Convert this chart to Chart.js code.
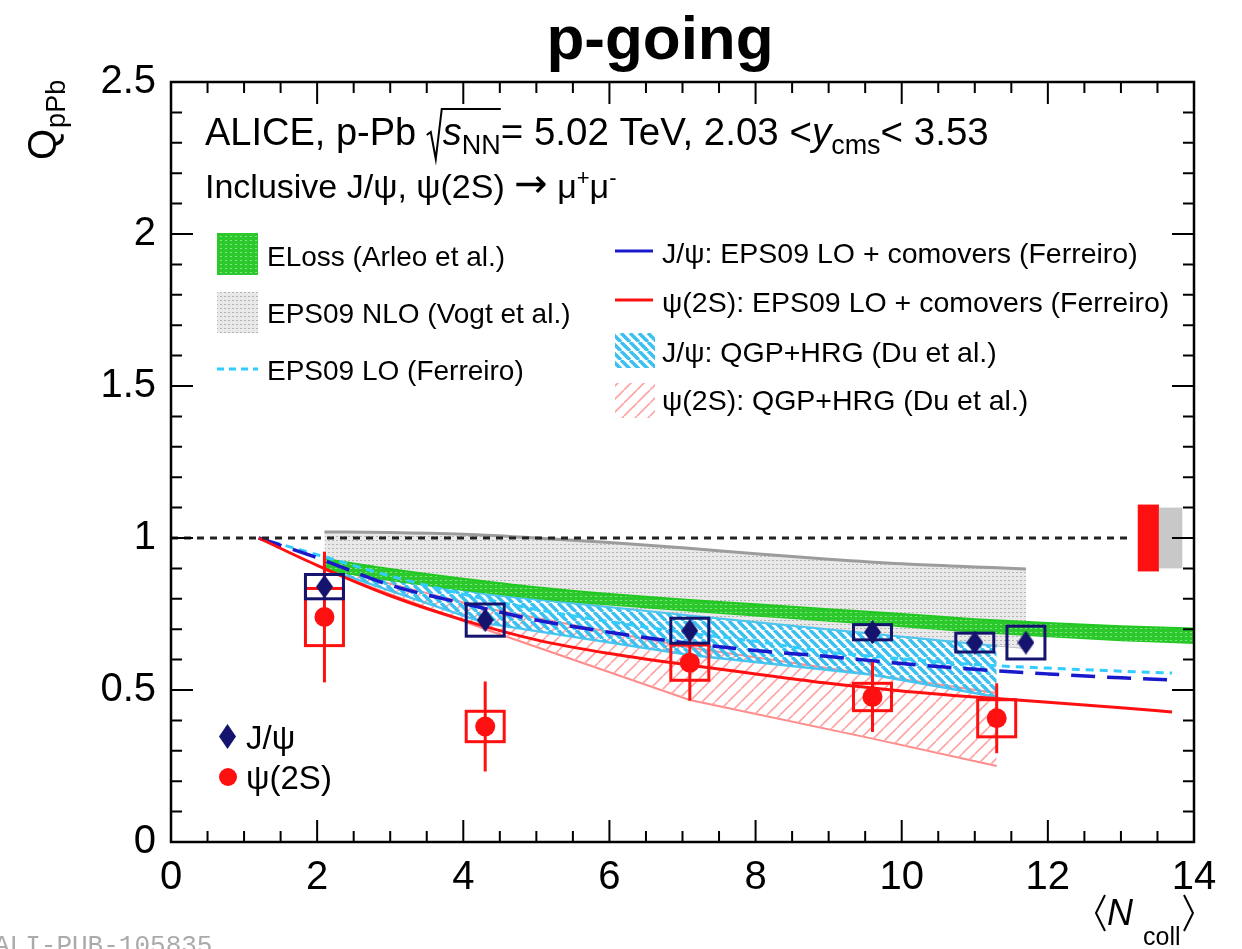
<!DOCTYPE html>
<html>
<head>
<meta charset="utf-8">
<script src="https://cdn.jsdelivr.net/npm/chart.js@4.4.1/dist/chart.umd.min.js"></script>
<style>
  html, body { margin: 0; padding: 0; background: #fff; }
  #plot { display: block; }
</style>
</head>
<body>
<canvas id="plot" width="1242" height="949"></canvas>
<script>
// measured Q_pPb vs <Ncoll>
const jpsiNcoll = [2.1, 4.3, 7.1, 9.6, 11.0, 11.7];
const jpsiQ     = [0.84, 0.73, 0.695, 0.69, 0.656, 0.656];
const jpsiStat  = [0.03, 0.03, 0.025, 0.035, 0.025, 0.02];
const jpsiSyst  = [0.04, 0.053, 0.041, 0.025, 0.031, 0.054];

const psi2sNcoll = [2.1, 4.3, 7.1, 9.6, 11.3];
const psi2sQ     = [0.74, 0.38, 0.59, 0.477, 0.407];
const psi2sStat  = [0.215, 0.148, 0.125, 0.115, 0.115];
const psi2sSyst  = [0.094, 0.05, 0.058, 0.045, 0.061];

// global normalisation uncertainties: psi(2S), J/psi
const globalUnc = [0.11, 0.10];

// EPS09 LO + comovers and EPS09 LO alone (Ferreiro)
const ferreiroNcoll = [1.2, 2, 3, 4, 5, 6, 7, 8, 9, 10, 11, 12, 13, 13.7];
const comoversJpsi  = [1.0, 0.935, 0.845, 0.785, 0.73, 0.69, 0.656, 0.63, 0.61, 0.587, 0.568, 0.553, 0.54, 0.533];
const comoversPsi2s = [1.0, 0.91, 0.81, 0.73, 0.665, 0.62, 0.585, 0.553, 0.522, 0.497, 0.477, 0.46, 0.442, 0.428];
const eps09LO       = [1.0, 0.945, 0.875, 0.815, 0.765, 0.725, 0.69, 0.66, 0.625, 0.603, 0.584, 0.572, 0.562, 0.556];

// energy loss band (Arleo et al.)
const elossNcoll = [2.1, 3, 4, 5, 6, 7, 8, 9, 10, 11, 12, 13, 14];
const elossHigh  = [0.932, 0.898, 0.866, 0.838, 0.816, 0.798, 0.782, 0.766, 0.75, 0.733, 0.72, 0.71, 0.702];
const elossLow   = [0.897, 0.862, 0.83, 0.803, 0.781, 0.763, 0.745, 0.728, 0.71, 0.692, 0.677, 0.664, 0.655];

// EPS09 NLO band (Vogt et al.)
const vogtNcoll = [2.1, 3, 4, 5, 6, 7, 8, 9, 10, 11, 11.7];
const vogtHigh  = [1.02, 1.018, 1.012, 1.0, 0.985, 0.968, 0.948, 0.93, 0.915, 0.905, 0.898];
const vogtLow   = [0.93, 0.885, 0.845, 0.805, 0.775, 0.748, 0.722, 0.698, 0.675, 0.652, 0.637];

// QGP+HRG bands (Du et al.)
const duNcoll     = [2.1, 4.3, 7.1, 9.6, 11.3];
const duJpsiHigh  = [0.915, 0.815, 0.745, 0.685, 0.645];
const duJpsiLow   = [0.90, 0.72, 0.615, 0.55, 0.477];
const duPsi2sHigh = [0.905, 0.77, 0.64, 0.55, 0.49];
const duPsi2sLow  = [0.895, 0.70, 0.467, 0.34, 0.25];

const xTicks = [0, 2, 4, 6, 8, 10, 12, 14];
const yTicks = [0, 0.5, 1, 1.5, 2, 2.5];

const FONT = '"Liberation Sans", Arial, Helvetica, sans-serif';
const NAVY = '#14146e';
const RED = '#ff1010';
const BOX_HALF = 0.26;

const canvas = document.getElementById('plot');
const ctx = canvas.getContext('2d');

const pts = (xs, ys) => xs.map((x, i) => ({ x: x, y: ys[i] }));

function dots(bg, dot, w, h, dw, dh) {
    const c = document.createElement('canvas');
    c.width = w; c.height = h;
    const g = c.getContext('2d');
    g.fillStyle = bg; g.fillRect(0, 0, w, h);
    g.fillStyle = dot; g.fillRect(0, 0, dw, dh);
    return ctx.createPattern(c, 'repeat');
}

function hatch(color, dir, size, lw) {
    const c = document.createElement('canvas');
    c.width = size; c.height = size;
    const g = c.getContext('2d');
    g.strokeStyle = color; g.lineWidth = lw;
    g.beginPath();
    for (let k = -1; k <= 1; k++) {
        if (dir > 0) { g.moveTo(k * size, size); g.lineTo(k * size + size, 0); }
        else { g.moveTo(k * size, 0); g.lineTo(k * size + size, size); }
    }
    g.stroke();
    return ctx.createPattern(c, 'repeat');
}

function diamond(w, h) {
    const c = document.createElement('canvas');
    c.width = w; c.height = h;
    const g = c.getContext('2d');
    g.fillStyle = NAVY;
    g.beginPath();
    g.moveTo(w / 2, 0); g.lineTo(w, h / 2); g.lineTo(w / 2, h); g.lineTo(0, h / 2);
    g.closePath(); g.fill();
    return c;
}

const greenFill = dots('#2cc92c', '#86e086', 5, 4, 2, 1);
const greyFill  = dots('#e9e9e9', '#b4b4b4', 4, 4, 2, 1);
const blueHatch = hatch('#3cc0ef', -1, 9, 3.5);
const pinkHatch = hatch('#ffa4a4', 1, 13, 1.6);
const diamondMark = diamond(17, 24);
const diamondLegend = diamond(17, 25);

function line(label, xs, ys, opts) {
    return Object.assign({
        label: label, data: pts(xs, ys), pointRadius: 0, fill: false,
        borderWidth: 2, tension: 0
    }, opts);
}

// text with sub/superscripts, parts drawn one after another
function rich(x, y, parts) {
    let cx = x;
    parts.forEach(p => {
        ctx.font = (p.italic ? 'italic ' : '') + p.size + 'px ' + (p.family || FONT);
        ctx.fillText(p.t, cx, y + (p.dy || 0));
        cx += ctx.measureText(p.t).width + (p.gap || 0);
    });
    return cx;
}

const framePlugin = {
    id: 'frame',
    beforeDatasetDraw(chart, args) {
        const ds = chart.data.datasets[args.index];
        if (!ds.syst) return;
        const xs = chart.scales.x, ys = chart.scales.y;
        const c = chart.ctx;
        c.save();
        c.strokeStyle = ds.boxColor;
        c.lineWidth = 3;
        ds.data.forEach((p, i) => {
            const xl = xs.getPixelForValue(p.x - BOX_HALF);
            const xr = xs.getPixelForValue(p.x + BOX_HALF);
            const yt = ys.getPixelForValue(p.y + ds.syst[i]);
            const yb = ys.getPixelForValue(p.y - ds.syst[i]);
            c.strokeRect(xl, yt, xr - xl, yb - yt);
            const xc = xs.getPixelForValue(p.x);
            c.beginPath();
            c.moveTo(xc, ys.getPixelForValue(p.y + ds.stat[i]));
            c.lineTo(xc, ys.getPixelForValue(p.y - ds.stat[i]));
            c.stroke();
        });
        c.restore();
    },
    afterDatasetsDraw(chart) {
        const xs = chart.scales.x, ys = chart.scales.y;
        const c = chart.ctx;
        // global uncertainty boxes at unity
        const cols = [RED, '#c8c8c8'];
        const spans = [[13.23, 13.52], [13.52, 13.84]];
        globalUnc.forEach((u, i) => {
            const xl = xs.getPixelForValue(spans[i][0]);
            const xr = xs.getPixelForValue(spans[i][1]);
            const yt = ys.getPixelForValue(1 + u);
            const yb = ys.getPixelForValue(1 - u);
            c.fillStyle = cols[i];
            c.fillRect(xl, yt, xr - xl, yb - yt);
        });
    },
    afterDraw(chart) {
        const a = chart.chartArea;
        const xs = chart.scales.x, ys = chart.scales.y;
        const c = chart.ctx;
        c.save();
        c.strokeStyle = '#000';
        c.lineWidth = 2.5;
        c.strokeRect(a.left, a.top, a.right - a.left, a.bottom - a.top);
        // ticks inside the frame on all four sides
        c.lineWidth = 2;
        c.beginPath();
        for (let v = 0; v <= 14.001; v += 0.5) {
            const px = xs.getPixelForValue(v);
            const len = Math.abs(v % 2) < 1e-6 ? 22 : 11;
            c.moveTo(px, a.bottom); c.lineTo(px, a.bottom - len);
            c.moveTo(px, a.top); c.lineTo(px, a.top + len);
        }
        for (let k = 0; k <= 25; k++) {
            const py = ys.getPixelForValue(k / 10);
            const len = k % 5 === 0 ? 22 : 11;
            c.moveTo(a.left, py); c.lineTo(a.left + len, py);
            c.moveTo(a.right, py); c.lineTo(a.right - len, py);
        }
        c.stroke();

        c.fillStyle = '#000';
        c.textBaseline = 'alphabetic';
        c.textAlign = 'left';

        // title
        c.font = 'bold 62px ' + FONT;
        c.textAlign = 'center';
        c.fillText('p-going', 660, 59);
        c.textAlign = 'left';

        // y axis title, rotated
        c.save();
        c.translate(56, 160);
        c.rotate(-Math.PI / 2);
        c.font = '40px ' + FONT;
        c.fillText('Q', 0, 0);
        const qw = c.measureText('Q').width;
        c.font = '27px ' + FONT;
        c.fillText('pPb', qw + 1, 9);
        c.restore();

        // x axis title
        c.lineWidth = 2;
        c.beginPath();
        c.moveTo(1105, 895); c.lineTo(1096, 913); c.lineTo(1105, 931);
        c.moveTo(1184, 895); c.lineTo(1193, 913); c.lineTo(1184, 931);
        c.stroke();
        rich(1107, 925, [{ t: 'N', size: 36, italic: true }]);
        rich(1143, 945, [{ t: 'coll', size: 25 }]);

        // header lines
        let cx = rich(205, 145, [{ t: 'ALICE, p-Pb ', size: 38 }]);
        c.lineWidth = 2;
        c.beginPath();
        c.moveTo(cx, 135); c.lineTo(cx + 4, 132); c.lineTo(cx + 9, 159); c.lineTo(cx + 15, 109);
        const rootStart = cx + 15;
        cx = rich(rootStart + 1, 145, [{ t: 's', size: 38, italic: true }, { t: 'NN', size: 27, dy: 9 }]);
        c.lineTo(cx, 109);
        c.stroke();
        rich(cx, 145, [{ t: '= 5.02 TeV, 2.03 <', size: 38.5 }, { t: 'y', size: 38.5, italic: true },
            { t: 'cms', size: 27, dy: 9 }, { t: '< 3.53', size: 38.5 }]);

        rich(205, 198, [{ t: 'Inclusive J/\u03c8, \u03c8(2S) ', size: 34 },
            { t: '\u2192', size: 40, family: '"DejaVu Sans", sans-serif', dy: -1 },
            { t: ' \u03bc', size: 34 }, { t: '+', size: 22, dy: -13 }, { t: '\u03bc', size: 34 },
            { t: '-', size: 22, dy: -13 }]);

        // model legend, left column
        c.font = '28px ' + FONT;
        c.fillStyle = greenFill; c.fillRect(217, 233, 41, 42);
        c.fillStyle = greyFill; c.fillRect(217, 292, 41, 41);
        c.fillStyle = '#000';
        c.fillText('ELoss (Arleo et al.)', 267, 266);
        c.fillText('EPS09 NLO (Vogt et al.)', 267, 323);
        c.fillText('EPS09 LO (Ferreiro)', 267, 380);
        c.save();
        c.strokeStyle = '#33ccff'; c.lineWidth = 3; c.setLineDash([7, 5]);
        c.beginPath(); c.moveTo(217, 369); c.lineTo(258, 369); c.stroke();
        c.restore();

        // model legend, right column
        c.lineWidth = 3;
        c.strokeStyle = '#1a1acc';
        c.beginPath(); c.moveTo(615, 251); c.lineTo(653, 251); c.stroke();
        c.strokeStyle = RED;
        c.beginPath(); c.moveTo(615, 300); c.lineTo(653, 300); c.stroke();
        c.fillStyle = blueHatch; c.fillRect(615, 333, 40, 35);
        c.fillStyle = pinkHatch; c.fillRect(615, 383, 40, 35);
        c.fillStyle = '#000';
        c.font = '28.5px ' + FONT;
        c.fillText('J/\u03c8: EPS09 LO + comovers (Ferreiro)', 662, 263);
        c.fillText('\u03c8(2S): EPS09 LO + comovers (Ferreiro)', 662, 312);
        c.fillText('J/\u03c8: QGP+HRG (Du et al.)', 662, 362);
        c.fillText('\u03c8(2S): QGP+HRG (Du et al.)', 662, 410);

        // data legend
        c.drawImage(diamondLegend, 219, 724);
        c.fillStyle = RED;
        c.beginPath(); c.arc(228, 777, 9, 0, Math.PI * 2); c.fill();
        c.fillStyle = '#000';
        c.font = '33px ' + FONT;
        c.fillText('J/\u03c8', 246, 749);
        c.fillText('\u03c8(2S)', 246, 789);

        // figure id
        c.fillStyle = '#aaaaaa';
        c.font = '26px "Liberation Mono", "DejaVu Sans Mono", monospace';
        c.fillText('ALI-PUB-105835', -6, 953);
        c.restore();
    }
};

new Chart(ctx, {
    type: 'line',
    data: {
        datasets: [
            line('EPS09 NLO (Vogt et al.)', vogtNcoll, vogtHigh,
                { fill: '+1', backgroundColor: greyFill, borderColor: '#9c9c9c', borderWidth: 3, cubicInterpolationMode: 'monotone', order: 8 }),
            line('vogt-low', vogtNcoll, vogtLow,
                { borderColor: '#b4b4b4', borderWidth: 1.5, cubicInterpolationMode: 'monotone', order: 8 }),
            line('\u03c8(2S): QGP+HRG (Du et al.)', duNcoll, duPsi2sHigh,
                { fill: '+1', backgroundColor: pinkHatch, borderColor: '#ff9090', borderWidth: 2, order: 7 }),
            line('du-psi-low', duNcoll, duPsi2sLow,
                { borderColor: '#ff8a8a', borderWidth: 2, order: 7 }),
            line('J/\u03c8: QGP+HRG (Du et al.)', duNcoll, duJpsiHigh,
                { fill: '+1', backgroundColor: blueHatch, borderColor: '#4cc6f0', borderWidth: 2, order: 6 }),
            line('du-jpsi-low', duNcoll, duJpsiLow,
                { borderColor: '#4cc6f0', borderWidth: 2.5, order: 6 }),
            line('ELoss (Arleo et al.)', elossNcoll, elossHigh,
                { fill: '+1', backgroundColor: greenFill, borderColor: '#22c822', borderWidth: 2, cubicInterpolationMode: 'monotone', order: 5 }),
            line('eloss-low', elossNcoll, elossLow,
                { borderColor: '#22c822', borderWidth: 2, cubicInterpolationMode: 'monotone', order: 5 }),
            line('EPS09 LO (Ferreiro)', ferreiroNcoll, eps09LO,
                { borderColor: '#33ccff', borderWidth: 3, borderDash: [8, 6], cubicInterpolationMode: 'monotone', order: 4 }),
            line('J/\u03c8: EPS09 LO + comovers (Ferreiro)', ferreiroNcoll, comoversJpsi,
                { borderColor: '#1a1acc', borderWidth: 3.5, borderDash: [24, 12], cubicInterpolationMode: 'monotone', order: 3 }),
            line('\u03c8(2S): EPS09 LO + comovers (Ferreiro)', ferreiroNcoll, comoversPsi2s,
                { borderColor: RED, borderWidth: 3, cubicInterpolationMode: 'monotone', order: 2 }),
            line('unity', [0, 13.1], [1, 1],
                { borderColor: '#222', borderWidth: 3, borderDash: [7, 6], order: 1.5 }),
            {
                label: '\u03c8(2S)', data: pts(psi2sNcoll, psi2sQ), showLine: false,
                pointStyle: 'circle', pointRadius: 10, pointBackgroundColor: RED, pointBorderWidth: 0,
                syst: psi2sSyst, stat: psi2sStat, boxColor: RED, order: 1
            },
            {
                label: 'J/\u03c8', data: pts(jpsiNcoll, jpsiQ), showLine: false,
                pointStyle: diamondMark, pointRadius: 10, pointBorderWidth: 0,
                syst: jpsiSyst, stat: jpsiStat, boxColor: NAVY, order: 0
            }
        ]
    },
    options: {
        responsive: false,
        animation: false,
        layout: { padding: { top: 82, right: 48, left: 0, bottom: 0 } },
        plugins: { legend: { display: false }, tooltip: { enabled: false } },
        scales: {
            x: {
                type: 'linear', min: 0, max: 14,
                grid: { display: false }, border: { display: false },
                afterBuildTicks: s => { s.ticks = xTicks.map(v => ({ value: v })); },
                ticks: { color: '#000', font: { family: FONT, size: 40 }, padding: 4, maxRotation: 0, autoSkip: false },
                afterFit: s => { s.height = 107; }
            },
            y: {
                min: 0, max: 2.5,
                grid: { display: false }, border: { display: false },
                afterBuildTicks: s => { s.ticks = yTicks.map(v => ({ value: v })); },
                ticks: { color: '#000', font: { family: FONT, size: 40 }, padding: 7, callback: v => String(v) },
                afterFit: s => { s.width = 171; }
            }
        }
    },
    plugins: [framePlugin]
});
</script>
</body>
</html>
